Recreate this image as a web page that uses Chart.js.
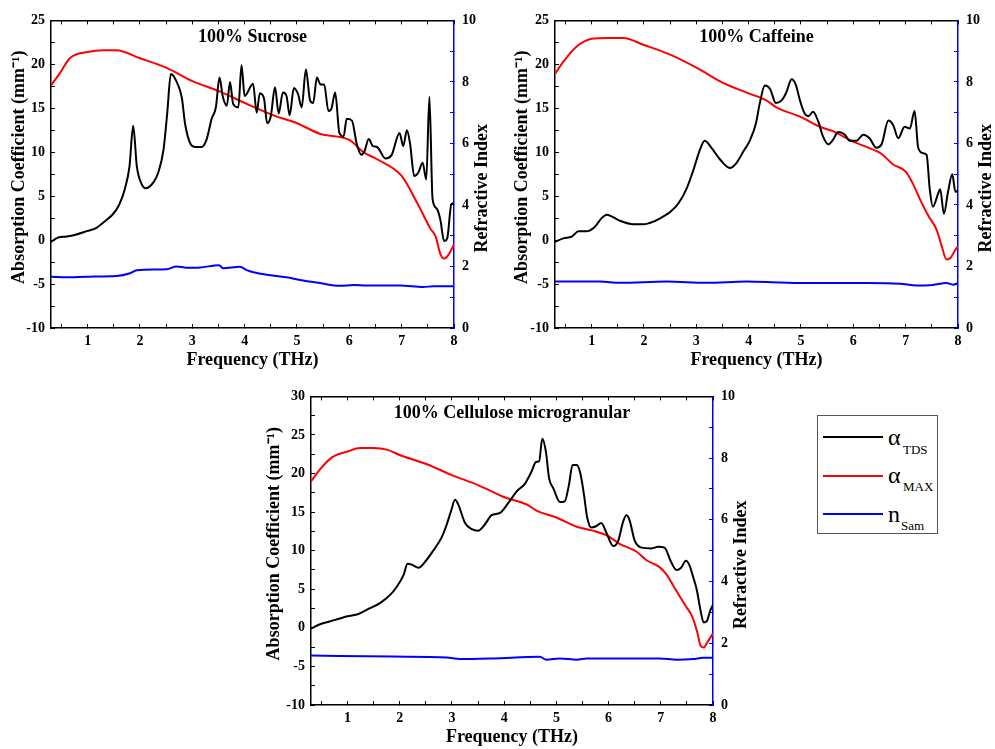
<!DOCTYPE html>
<html lang="en">
<head>
<meta charset="UTF-8">
<title>THz absorption spectra</title>
<script src="https://cdn.jsdelivr.net/npm/chart.js@4.4.1/dist/chart.umd.min.js"></script>
<style>
    body { margin: 0; background: #fff; }
    .page { position: relative; width: 995px; height: 749px; overflow: hidden; }
    canvas { position: absolute; }
    #sucrose { left: 0; top: 0; }
    #caffeine { left: 500px; top: 0; }
    #cellulose { left: 260px; top: 376px; }
    .legend {
        position: absolute; left: 817px; top: 415px;
        width: 119px; height: 117px;
        border: 1px solid #555;
        font-family: 'Liberation Serif', serif; color: #000;
    }
    .swatch { position: absolute; left: 5px; width: 60px; height: 0; border-top: 2px solid; }
    .sym { position: absolute; left: 70px; font-size: 24px; line-height: 24px; }
    .sub { position: absolute; font-size: 13px; line-height: 13px; }
</style>
</head>
<body>
<div class="page">
    <canvas id="sucrose" width="500" height="376"></canvas>
    <canvas id="caffeine" width="495" height="376"></canvas>
    <canvas id="cellulose" width="500" height="373"></canvas>

    <div class="legend">
        <div class="swatch" style="top:20px;border-color:#000"></div>
        <div class="sym" style="top:9px">α</div>
        <div class="sub" style="left:85px;top:27px">TDS</div>

        <div class="swatch" style="top:59px;border-color:#ff0000"></div>
        <div class="sym" style="top:47px">α</div>
        <div class="sub" style="left:85px;top:64px">MAX</div>

        <div class="swatch" style="top:97px;border-color:#0000ff"></div>
        <div class="sym" style="top:86px">n</div>
        <div class="sub" style="left:83px;top:103px">Sam</div>
    </div>
</div>

<script>
// ---- 100% Sucrose ----
const sucroseTdsFreq = [0.30,0.44,0.60,1.00,1.17,1.36,1.49,1.60,1.71,1.80,1.87,1.94,2.03,2.11,2.26,2.35,2.45,2.52,2.59,2.71,2.80,2.86,2.96,3.05,3.18,3.27,3.37,3.45,3.52,3.58,3.66,3.72,3.78,3.88,3.94,4.00,4.16,4.23,4.29,4.37,4.43,4.50,4.58,4.65,4.73,4.80,4.86,4.94,5.02,5.09,5.17,5.25,5.31,5.38,5.45,5.52,5.60,5.66,5.73,5.81,5.89,5.95,6.05,6.14,6.23,6.29,6.37,6.45,6.53,6.69,6.81,6.96,7.03,7.10,7.16,7.24,7.32,7.40,7.47,7.53,7.59,7.67,7.74,7.81,7.87,7.95,8.00];
const sucroseTds = [-0.2,0.3,0.4,1.05,1.4,2.3,3.0,4.0,5.8,8.4,13.0,8.4,6.4,5.9,6.6,7.7,10.3,14.4,18.9,17.9,16.2,13.3,11.0,10.6,10.6,11.4,13.8,15.1,18.5,16.4,15.3,18.0,15.5,15.1,19.9,16.4,17.8,14.5,16.7,16.1,13.3,14.1,17.4,14.4,16.8,16.4,14.2,17.3,16.6,15.1,19.4,15.9,15.6,18.5,17.7,17.7,14.7,15.0,16.8,12.2,11.8,13.8,13.6,11.0,9.7,10.1,11.5,10.7,10.6,9.3,9.7,12.2,10.7,12.5,11.0,7.3,7.7,8.8,6.9,16.3,4.7,3.6,2.3,-0.1,0.2,4.1,4.2];
const sucroseMaxFreq = [0.30,0.47,0.66,1.00,1.30,1.55,2.00,2.51,3.00,3.53,4.00,4.55,5.00,5.44,6.00,6.27,6.53,7.00,7.29,7.55,7.65,7.74,7.81,7.89,8.00];
const sucroseMax = [17.6,19.0,20.7,21.4,21.6,21.6,20.7,19.6,18.1,16.9,15.6,14.2,13.3,12.1,11.4,10.0,9.2,7.3,4.3,1.3,0.4,-1.6,-2.1,-1.7,-0.5];
const sucroseNFreq = [0.30,0.60,1.00,1.55,1.81,1.94,2.51,2.70,2.89,3.15,3.51,3.59,3.91,4.04,4.17,4.42,4.80,5.06,5.44,5.82,6.08,6.33,6.97,7.41,7.61,8.00];
const sucroseN = [1.67,1.65,1.67,1.69,1.78,1.88,1.91,2.00,1.96,1.97,2.04,1.94,1.99,1.88,1.81,1.73,1.65,1.56,1.46,1.37,1.40,1.38,1.38,1.33,1.36,1.36];

// ---- 100% Caffeine ----
const caffeineTdsFreq = [0.30,0.46,0.62,0.75,0.90,1.06,1.19,1.29,1.38,1.54,1.80,1.99,2.18,2.37,2.50,2.66,2.81,2.94,3.07,3.16,3.29,3.45,3.64,3.77,3.90,4.02,4.14,4.21,4.31,4.41,4.52,4.63,4.72,4.82,4.90,4.98,5.07,5.14,5.23,5.33,5.42,5.52,5.61,5.71,5.84,5.93,6.06,6.19,6.31,6.44,6.54,6.67,6.76,6.86,6.98,7.08,7.17,7.24,7.33,7.40,7.46,7.52,7.62,7.66,7.73,7.81,7.89,7.95,8.00];
const caffeineTds = [-0.2,0.2,0.4,1.0,1.0,1.5,2.5,2.9,2.7,2.2,1.8,1.8,2.1,2.7,3.2,4.2,5.8,7.9,10.3,11.3,10.5,9.2,8.2,8.8,10.1,11.3,13.3,15.5,17.6,17.2,15.6,15.9,16.8,18.3,17.7,15.9,14.4,14.1,14.6,13.5,11.8,10.9,11.4,12.3,12.0,11.3,11.3,12.0,11.6,10.5,10.9,13.6,13.1,11.6,12.9,12.7,14.7,10.5,9.9,9.7,5.8,3.8,5.3,5.8,3.0,5.5,7.5,5.5,5.6];
const caffeineMaxFreq = [0.30,0.46,0.71,1.00,1.29,1.60,2.00,2.50,3.01,3.51,4.00,4.34,4.53,5.00,5.36,5.61,6.00,6.25,6.54,6.76,7.00,7.14,7.27,7.43,7.59,7.68,7.78,7.86,7.94,8.00];
const caffeineMax = [18.9,20.3,22.0,22.9,23.0,23.0,22.2,21.1,19.6,17.9,16.7,15.9,15.1,14.0,12.9,12.4,11.2,10.6,9.8,8.6,7.8,6.4,4.7,2.8,1.2,-0.5,-2.2,-2.0,-1.2,-0.7];
const caffeineNFreq = [0.30,1.16,1.54,2.43,3.20,3.96,4.60,5.17,6.25,6.89,7.21,7.52,7.78,7.91,8.00];
const caffeineN = [1.51,1.51,1.47,1.51,1.47,1.51,1.48,1.46,1.46,1.44,1.38,1.40,1.46,1.41,1.46];

// ---- 100% Cellulose microgranular ----
const celluloseTdsFreq = [0.30,0.45,0.67,1.00,1.21,1.43,1.62,1.82,1.94,2.07,2.15,2.23,2.36,2.49,2.64,2.80,2.90,2.98,3.06,3.12,3.25,3.38,3.50,3.63,3.76,3.92,4.08,4.24,4.40,4.52,4.61,4.67,4.73,4.80,4.86,4.94,5.07,5.16,5.24,5.31,5.39,5.46,5.53,5.59,5.67,5.77,5.86,5.96,6.09,6.18,6.28,6.34,6.40,6.50,6.63,6.82,6.95,7.07,7.20,7.30,7.39,7.48,7.55,7.62,7.69,7.76,7.82,7.88,7.95,8.00];
const celluloseTds = [-0.1,0.4,0.85,1.5,1.8,2.55,3.2,4.3,5.3,6.8,8.3,8.2,7.8,8.6,10.0,11.7,13.4,15.1,16.6,16.0,13.6,12.8,12.6,13.4,14.6,14.9,16.2,17.7,18.7,20.2,21.5,21.6,24.5,22.8,19.4,18.1,16.3,16.4,18.5,21.1,21.1,20.0,17.2,14.3,13.0,13.2,13.6,12.3,10.6,11.2,13.8,14.6,14.0,11.3,10.4,10.3,10.5,10.4,8.5,7.5,7.8,8.7,8.1,6.6,4.9,2.3,0.7,0.85,2.3,3.0];
const celluloseMaxFreq = [0.30,0.48,0.70,1.00,1.24,1.50,1.75,2.00,2.52,3.00,3.50,3.98,4.43,4.62,5.00,5.39,5.70,5.99,6.21,6.53,6.72,6.97,7.10,7.29,7.48,7.60,7.70,7.76,7.82,7.89,8.00];
const celluloseMax = [19.0,20.6,22.1,22.85,23.3,23.3,23.1,22.4,21.2,19.8,18.5,17.0,16.0,15.2,14.3,13.1,12.6,11.9,10.9,9.9,8.8,7.9,7.0,4.9,2.8,1.5,-0.6,-2.3,-2.55,-1.9,-0.7];
const celluloseNFreq = [0.30,1.88,2.90,3.15,3.79,4.68,4.81,5.07,5.39,5.58,6.98,7.30,7.62,7.81,8.00];
const celluloseN = [1.60,1.57,1.54,1.49,1.51,1.56,1.47,1.51,1.47,1.51,1.51,1.47,1.49,1.53,1.53];

const FONT = "'Liberation Serif', serif";
const tickFont = { family: FONT, size: 14, weight: 'bold' };

function pts(xs, ys) {
    return xs.map((x, i) => ({ x: x, y: ys[i] }));
}

// titles drawn by hand so the right one can read bottom-to-top like the left one
const titles = {
    id: 'titles',
    afterDraw(chart, args, o) {
        const ctx = chart.ctx, a = chart.chartArea;
        const cx = (a.left + a.right) / 2, cy = (a.top + a.bottom) / 2;
        ctx.save();
        ctx.fillStyle = '#000';
        ctx.font = 'bold 18px ' + FONT;
        ctx.textAlign = 'center';
        ctx.textBaseline = 'middle';
        ctx.fillText(o.title, cx, a.top + 17);
        ctx.fillText('Frequency (THz)', cx, a.bottom + 32);
        ctx.save();
        ctx.translate(a.left - o.leftGap, cy - 7);
        ctx.rotate(-Math.PI / 2);
        ctx.fillText('Absorption Coefficient (mm\u207B\u00B9)', 0, 0);
        ctx.restore();
        ctx.translate(a.right + 28, cy + 14);
        ctx.rotate(-Math.PI / 2);
        ctx.fillText('Refractive Index', 0, 0);
        ctx.restore();
    }
};

function makeChart(id, o) {
    const xAxis = (pos, h, labels) => ({
        type: 'linear', position: pos, min: 0.3, max: 8,
        afterFit: s => { s.height = h; },
        border: { color: '#000', width: 1.5 },
        grid: { drawOnChartArea: false, tickLength: -4, tickColor: '#000' },
        ticks: {
            display: labels, stepSize: 0.5, includeBounds: false, autoSkip: false,
            maxRotation: 0, padding: 9, color: '#000', font: tickFont,
            callback: v => Number.isInteger(v) ? v : ''
        }
    });
    return new Chart(document.getElementById(id), {
        type: 'line',
        data: {
            datasets: [
                { data: pts(o.tdsFreq, o.tds), yAxisID: 'y', borderColor: '#000000' },
                { data: pts(o.maxFreq, o.max), yAxisID: 'y', borderColor: '#ff0000' },
                { data: pts(o.nFreq, o.n), yAxisID: 'y1', borderColor: '#0000ff' }
            ].map(d => Object.assign(d, { borderWidth: 2, pointRadius: 0, cubicInterpolationMode: 'monotone' }))
        },
        options: {
            responsive: false,
            animation: false,
            layout: { padding: 0 },
            plugins: { legend: { display: false }, tooltip: { enabled: false }, titles: { title: o.title, leftGap: o.leftGap } },
            scales: {
                x: xAxis('bottom', o.bottomH, true),
                xTop: xAxis('top', o.topH, false),
                y: {
                    type: 'linear', position: 'left', min: -10, max: o.yMax,
                    afterFit: s => { s.width = o.leftW; },
                    border: { color: '#000', width: 1.5 },
                    grid: { drawOnChartArea: false, tickLength: -4, tickColor: '#000' },
                    ticks: {
                        stepSize: 2.5, autoSkip: false, padding: 10, color: '#000', font: tickFont,
                        callback: v => v % 5 === 0 ? v : ''
                    }
                },
                y1: {
                    type: 'linear', position: 'right', min: 0, max: 10,
                    afterFit: s => { s.width = o.rightW; },
                    border: { color: '#0000ff', width: 1.5 },
                    grid: { drawOnChartArea: false, tickLength: -4, tickColor: '#0000ff' },
                    ticks: {
                        stepSize: 1, autoSkip: false, padding: 12, color: '#000', font: tickFont,
                        callback: v => v % 2 === 0 ? v : ''
                    }
                }
            }
        },
        plugins: [titles]
    });
}

makeChart('sucrose', {
    title: '100% Sucrose', yMax: 25,
    tdsFreq: sucroseTdsFreq, tds: sucroseTds,
    maxFreq: sucroseMaxFreq, max: sucroseMax,
    nFreq: sucroseNFreq, n: sucroseN,
    leftW: 51, rightW: 46, topH: 15, bottomH: 48, leftGap: 32
});

makeChart('caffeine', {
    title: '100% Caffeine', yMax: 25,
    tdsFreq: caffeineTdsFreq, tds: caffeineTds,
    maxFreq: caffeineMaxFreq, max: caffeineMax,
    nFreq: caffeineNFreq, n: caffeineN,
    leftW: 55, rightW: 37, topH: 15, bottomH: 48, leftGap: 33
});

makeChart('cellulose', {
    title: '100% Cellulose microgranular', yMax: 30,
    tdsFreq: celluloseTdsFreq, tds: celluloseTds,
    maxFreq: celluloseMaxFreq, max: celluloseMax,
    nFreq: celluloseNFreq, n: celluloseN,
    leftW: 51, rightW: 47, topH: 16, bottomH: 44, leftGap: 37
});
</script>
</body>
</html>
